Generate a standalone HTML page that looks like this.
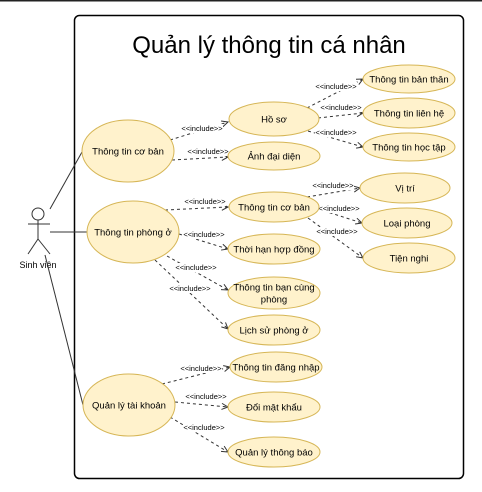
<!DOCTYPE html>
<html><head><meta charset="utf-8"><style>
body{margin:0;background:#fff;}
svg{display:block;font-family:"Liberation Sans",sans-serif;}
</style></head><body>
<svg id="svg" width="482" height="492" viewBox="0 0 482 492">
<line x1="0" y1="0.5" x2="482" y2="0.5" stroke="#222" stroke-width="2"/>
<rect x="74.5" y="15.5" width="389" height="463" rx="5" fill="#fff" stroke="#000" stroke-width="1.5"/>
<text x="269" y="53" font-size="24" text-anchor="middle" fill="#000">Quản lý thông tin cá nhân</text>
<g stroke="#333" fill="none" stroke-width="1">
<circle cx="38" cy="214" r="6"/>
<line x1="38" y1="220" x2="38" y2="239"/>
<line x1="28" y1="224" x2="50" y2="224"/>
<line x1="38" y1="239" x2="28" y2="254"/>
<line x1="38" y1="239" x2="50" y2="254"/>
</g>
<text x="38" y="268" font-size="9" text-anchor="middle">Sinh viên</text>
<g stroke="#333" stroke-width="1">
<line x1="50" y1="209" x2="82" y2="152"/>
<line x1="50" y1="232" x2="87" y2="232"/>
<line x1="45" y1="255" x2="83" y2="405"/>
</g>
<g id="edges"></g>
<g id="nodes"></g>
</svg>
<script>
const nodeLabels=["Thông tin cơ bản","Thông tin phòng ở","Quản lý tài khoản","Hồ sơ","Ảnh đại diện","Thông tin bản thân","Thông tin liên hệ","Thông tin học tập","Thông tin cơ bản","Thời hạn hợp đồng","Thông tin bạn cùng|phòng","Lịch sử phòng ở","Vị trí","Loại phòng","Tiện nghi","Thông tin đăng nhập","Đổi mật khẩu","Quản lý thông báo"];
const nodeGeom=[[128,151,46,31],[133,232,46,31],[129,405,46,31],[274,119,45,17],[274,156,46,14],[409,79,46,14],[409,113,46,15],[409,147,46,14],[274,207,45,15],[274,249,46,15],[274,293,46,16],[274,330,46,15],[405,188,45,15],[407,223,45,15],[409,258,46,15],[276,367,46,15],[274,407,46,15],[274,452,46,15]];
const edges=[[170,140,228,122,202,128],[172,160,228,157,208,151],[307,108,363,79,336,86],[318,118,363,113,341,107],[308,131,363,147,336,132],[165,210,228,207,205,201],[179,234,228,249,204,234],[167,256,228,290,196,267],[155,260,228,329,190,288],[307,197,360,188,333,185],[318,209,362,223,339,208],[308,218,363,258,337,231],[162,384,230,367,201,368],[175,402,228,407,206,396],[170,417,228,452,204,427]];
const NS="http://www.w3.org/2000/svg";
const eg=document.getElementById('edges'),ng=document.getElementById('nodes');
edges.forEach((e,i)=>{
 const g=document.createElementNS(NS,'g');
 
 
 const [x1,y1,x2,y2,lx,ly]=e;
 const l=document.createElementNS(NS,'line');
 l.setAttribute('x1',x1);l.setAttribute('y1',y1);l.setAttribute('x2',x2);l.setAttribute('y2',y2);
 l.setAttribute('stroke','#333');l.setAttribute('stroke-dasharray','3,3');
 g.appendChild(l);
 const a=Math.atan2(y2-y1,x2-x1),s=7,w=0.45;
 const p=document.createElementNS(NS,'path');
 p.setAttribute('d',`M${x2-s*Math.cos(a-w)},${y2-s*Math.sin(a-w)}L${x2},${y2}L${x2-s*Math.cos(a+w)},${y2-s*Math.sin(a+w)}`);
 p.setAttribute('stroke','#333');p.setAttribute('fill','none');
 g.appendChild(p);
 const bg=document.createElementNS(NS,'rect');
 bg.setAttribute('x',lx-21);bg.setAttribute('y',ly-4);bg.setAttribute('width',42);bg.setAttribute('height',9);bg.setAttribute('fill','#fff');
 g.appendChild(bg);
 const t=document.createElementNS(NS,'text');
 t.setAttribute('x',lx);t.setAttribute('y',ly+3);t.setAttribute('font-size','7.5');t.setAttribute('text-anchor','middle');
 t.textContent='\u003C\u003Cinclude\u003E\u003E';
 g.appendChild(t);
 eg.appendChild(g);
});
nodeGeom.forEach((n,i)=>{
 const g=document.createElementNS(NS,'g');
 
 
 const el=document.createElementNS(NS,'ellipse');
 el.setAttribute('cx',n[0]);el.setAttribute('cy',n[1]);el.setAttribute('rx',n[2]);el.setAttribute('ry',n[3]);
 el.setAttribute('fill','#fff2cc');el.setAttribute('stroke','#d6b656');
 g.appendChild(el);
 const lines=nodeLabels[i].split('|');
 lines.forEach((ln,k)=>{
  const t=document.createElementNS(NS,'text');
  t.setAttribute('x',n[0]);t.setAttribute('y',n[1]+3.5+(k-(lines.length-1)/2)*12);
  t.setAttribute('font-size','9.5');t.setAttribute('text-anchor','middle');
  t.textContent=ln;g.appendChild(t);
 });
 ng.appendChild(g);
});
</script>
</body></html>
